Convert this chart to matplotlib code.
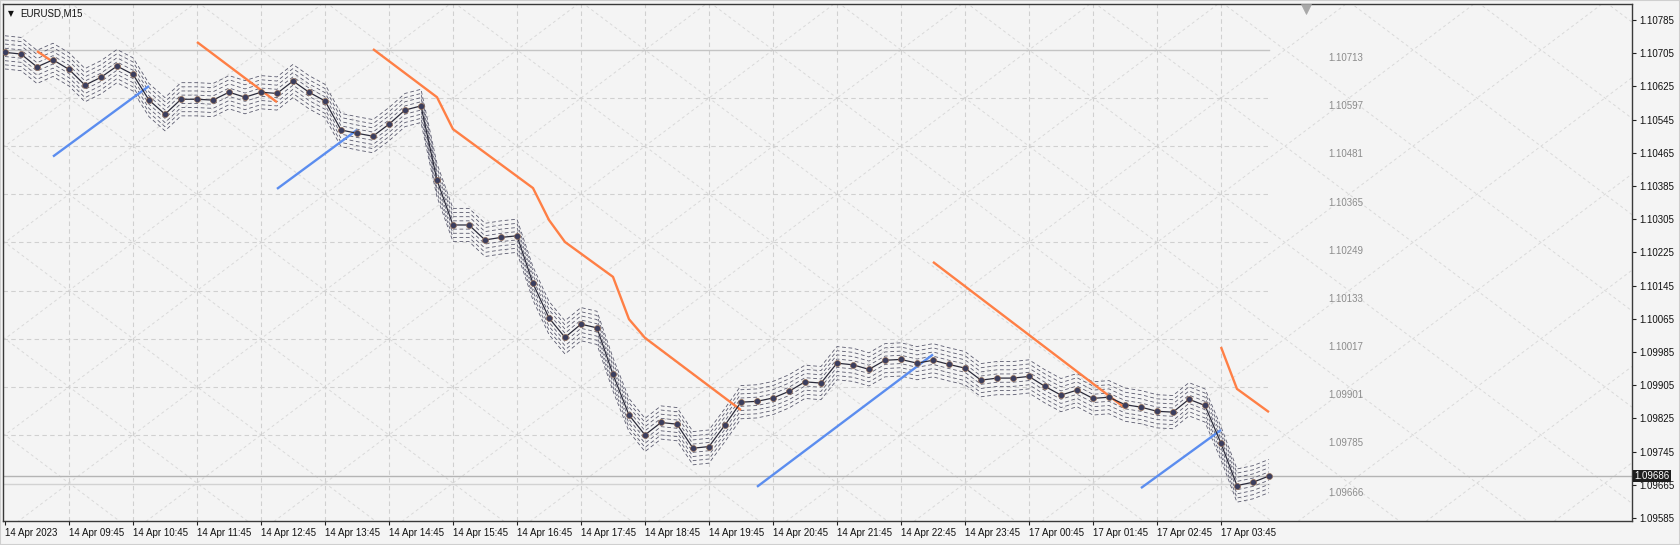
import numpy as np
import matplotlib
matplotlib.use("Agg")
import matplotlib.pyplot as plt

plt.rcParams['font.family'] = ['Liberation Sans', 'DejaVu Sans']

# EURUSD M15 closes, one per bar starting 14 Apr 08:45
close = [1.10707, 1.10703, 1.10672, 1.10689, 1.10666, 1.10628, 1.10647, 1.10674, 1.10654, 1.10592,
         1.10558, 1.10594, 1.10594, 1.10592, 1.10611, 1.10599, 1.10611, 1.10608, 1.10638, 1.10611,
         1.10590, 1.10520, 1.10512, 1.10505, 1.10534, 1.10568, 1.10578, 1.10399, 1.10291, 1.10291,
         1.10255, 1.10261, 1.10265, 1.10150, 1.10067, 1.10020, 1.10052, 1.10043, 1.09931, 1.09833,
         1.09785, 1.09815, 1.09811, 1.09753, 1.09757, 1.09809, 1.09864, 1.09866, 1.09874, 1.09890,
         1.09913, 1.09910, 1.09958, 1.09954, 1.09943, 1.09965, 1.09967, 1.09958, 1.09965, 1.09955,
         1.09946, 1.09917, 1.09922, 1.09922, 1.09926, 1.09902, 1.09881, 1.09893, 1.09873, 1.09876,
         1.09858, 1.09852, 1.09842, 1.09840, 1.09871, 1.09856, 1.09765, 1.09663, 1.09671, 1.09686]

# envelope offsets around the close line
env_offsets = [-0.0004, -0.0003, -0.0002, -0.0001, 0.0001, 0.0002, 0.0003, 0.0004]

# orange segments: (bar index list, price list)
orange_bars = [[2, 3], [12, 17], [23, 27, 28, 33, 34, 35, 38, 39, 40, 46], [58, 70], [76, 77, 79]]
orange_prices = [[1.10710, 1.10684], [1.10732, 1.10587],
                 [1.10715, 1.10599, 1.10522, 1.10380, 1.10303, 1.10250, 1.10166, 1.10064, 1.10019, 1.09845],
                 [1.10202, 1.09850], [1.09997, 1.09896, 1.09840]]

# blue segments
blue_bars = [[3, 9], [17, 22], [47, 58], [71, 76]]
blue_prices = [[1.10456, 1.10626], [1.10378, 1.10520], [1.09660, 1.09979], [1.09657, 1.09797]]

# level labels drawn inside the chart
level_labels = ["1.10713", "1.10597", "1.10481", "1.10365", "1.10249",
                "1.10133", "1.10017", "1.09901", "1.09785", "1.09666"]
level_step = 0.00116
top_level = 1.10713

bid = 1.09686
price_ticks = [1.10785 - 0.0008 * k for k in range(16)]
time_labels = ["14 Apr 2023", "14 Apr 09:45", "14 Apr 10:45", "14 Apr 11:45", "14 Apr 12:45",
               "14 Apr 13:45", "14 Apr 14:45", "14 Apr 15:45", "14 Apr 16:45", "14 Apr 17:45",
               "14 Apr 18:45", "14 Apr 19:45", "14 Apr 20:45", "14 Apr 21:45", "14 Apr 22:45",
               "14 Apr 23:45", "17 Apr 00:45", "17 Apr 01:45", "17 Apr 02:45", "17 Apr 03:45"]

bg = '#f4f4f4'
W, H = 1680, 545
fig = plt.figure(figsize=(W / 100, H / 100), dpi=100, facecolor=bg)
ax = fig.add_axes([3 / W, (H - 521) / H, (1632 - 3) / W, (521 - 4) / H])
ax.set_facecolor(bg)

x = np.arange(len(close))
close = np.array(close)
xmin, xmax = -0.125, 101.69
ymin, ymax = 1.095776, 1.108236
ax.set_xlim(xmin, xmax)
ax.set_ylim(ymin, ymax)

# diagonal diamond grid
u = np.array([(xmin - 4) / 4, (xmax - 4) / 4])
for c in range(-41, 42, 2):
    for sgn in (1, -1):
        v = sgn * u + c
        ax.plot(4 + 4 * u, top_level - level_step * v, color='#d9d9d9', lw=0.7,
                dashes=(3, 3), zorder=1)

# vertical grid
last = len(close) - 1
for b in range(4, last, 4):
    ax.plot([b, b], [ymin, ymax], color='#d0d0d0', lw=0.8, dashes=(4, 3), zorder=1)

# horizontal levels
levels = [top_level - level_step * k for k in range(len(level_labels))]
levels[-1] = float(level_labels[-1])
for k, (lv, lab) in enumerate(zip(levels, level_labels)):
    if k == 0 or k == len(levels) - 1:
        ax.plot([xmin, last], [lv, lv], color='#c4c4c4' if k == 0 else '#d2d2d2', lw=1.0, zorder=1)
    else:
        ax.plot([xmin, last], [lv, lv], color='#d0d0d0', lw=0.8, dashes=(4, 3), zorder=1)
    ax.annotate(lab, (82.7, lv), xytext=(0, -6), textcoords='offset points',
                ha='left', va='center', fontsize=7, color='#8c8c8c', zorder=2)

ax.axhline(bid, color='#b4b4b4', lw=1.0, zorder=1)

# envelope
for off in env_offsets:
    ax.plot(x, close + off, color='#5a5a6e', lw=0.6, dashes=(4.5, 3.2), zorder=3)

for bb, pp in zip(orange_bars, orange_prices):
    ax.plot(bb, pp, color='#ff7f45', lw=1.7, zorder=4, solid_capstyle='butt')
for bb, pp in zip(blue_bars, blue_prices):
    ax.plot(bb, pp, color='#5b8def', lw=1.7, zorder=4, solid_capstyle='butt')

ax.plot(x, close, color='#2b2b3b', lw=0.9, zorder=5)
ax.plot(x, close, 'o', ms=4.3, mfc='#3b3e5e', mec='#8e6a55', mew=0.5, zorder=6)

# axes styling
for s in ax.spines.values():
    s.set_color('#3a3a3a')
    s.set_linewidth(1.0)
ax.yaxis.tick_right()
ax.set_yticks(price_ticks)
ax.set_yticklabels(["%.5f" % p for p in price_ticks])
ax.set_xticks(list(range(0, 80, 4)))
ax.set_xticklabels(time_labels)
for t in ax.get_xticklabels():
    t.set_ha('left')
ax.tick_params(axis='both', length=3, width=0.8, color='#222222', labelsize=7, labelcolor='#111111')
ax.tick_params(axis='x', pad=2)
ax.tick_params(axis='y', pad=2)

ax.text(1.0015, bid, "%.5f" % bid, transform=ax.get_yaxis_transform(), ha='left', va='center',
        fontsize=7, color='white', zorder=10, clip_on=False,
        bbox=dict(boxstyle='square,pad=0.15', fc='#1e1e1e', ec='none'))

# header and shift marker
ax.text(0.003, 0.982, "▼", transform=ax.transAxes, fontsize=5.5, color='#111111',
        ha='left', va='center', family=['DejaVu Sans'])
ax.text(0.0105, 0.982, "EURUSD,M15", transform=ax.transAxes, fontsize=7, color='#111111',
        ha='left', va='center')
ax.plot([81.3], [ymax - 0.00012], marker='v', ms=6.5, color='#a8a8a8', mec='#a8a8a8', mew=0.5,
        zorder=7, clip_on=False)

fig.patches.append(plt.Rectangle((0, 0), 1, 1, transform=fig.transFigure, fill=False,
                                 ec='#cfcfcf', lw=1.5))
fig.savefig("out.png", dpi=100, facecolor=bg)
